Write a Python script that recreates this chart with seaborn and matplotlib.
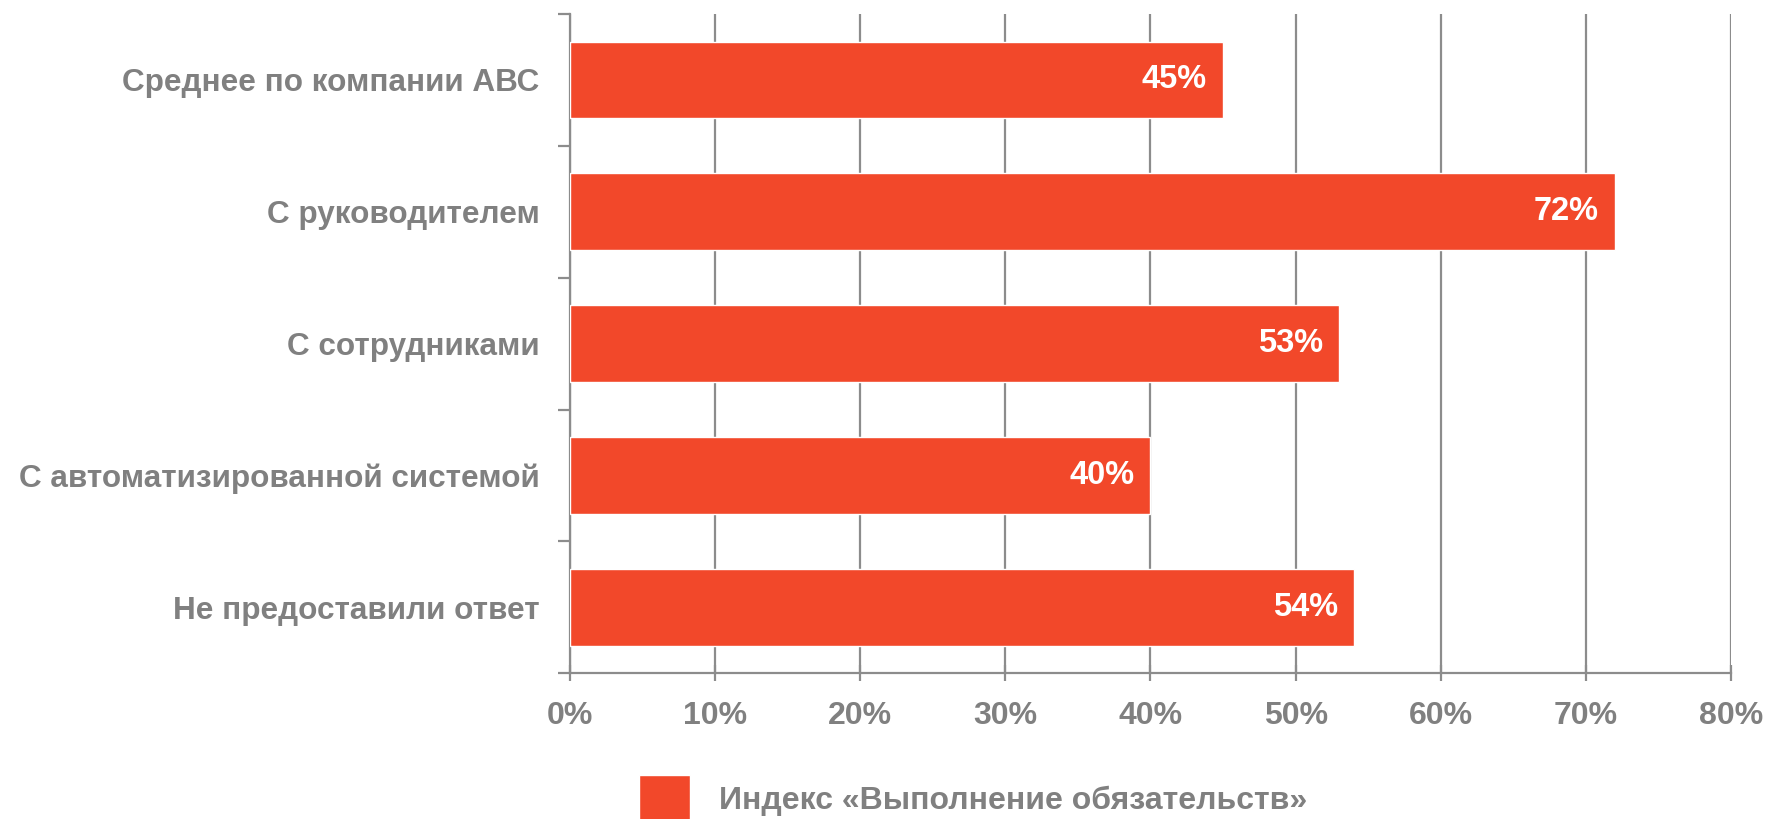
import matplotlib
matplotlib.use("Agg")
import matplotlib.pyplot as plt
import seaborn as sns
import pandas as pd

categories = [
    "Среднее по компании АВС",
    "С руководителем",
    "С сотрудниками",
    "С автоматизированной системой",
    "Не предоставили ответ",
]
values = [45, 72, 53, 40, 54]
x_ticks = [0, 10, 20, 30, 40, 50, 60, 70, 80]
series_name = "Индекс «Выполнение обязательств»"

BAR = "#F2482A"
GRAY = "#808080"
GRID = "#8C8C8C"

sns.set_theme(style="white")
plt.rcParams["font.family"] = ["Liberation Sans", "DejaVu Sans"]

df = pd.DataFrame({"category": categories, "value": values})

fig = plt.figure(figsize=(17.67, 8.19), dpi=100)
ax = fig.add_axes([0.3226, 0.178, 0.9796 - 0.3226, 0.983 - 0.178])

sns.barplot(data=df, y="category", x="value", orient="h", color=BAR,
            saturation=1, width=0.58, ax=ax, label=series_name, zorder=3)
if ax.get_legend() is not None:
    ax.get_legend().remove()

ax.set_xlim(0, 80)
ax.set_ylim(len(categories) - 0.5, -0.5)
ax.set_xticks(x_ticks)
ax.set_xticklabels([f"{t}%" for t in x_ticks], fontweight="bold",
                   fontsize=23, color=GRAY)
ax.xaxis.grid(True, color=GRID, linewidth=1.6, zorder=0)
ax.yaxis.grid(False)

# category labels at centers, tick marks at category boundaries
ax.set_yticks(range(len(categories)))
ax.set_yticklabels(categories, fontweight="bold", fontsize=22.7, color=GRAY)
ax.set_yticks([i - 0.5 for i in range(len(categories) + 1)], minor=True)
ax.tick_params(axis="y", which="major", length=0, pad=22)
ax.tick_params(axis="y", which="minor", length=9, width=1.6, color=GRID, direction="out", left=True)
ax.tick_params(axis="x", which="major", length=12, width=1.6, color=GRID, direction="inout", pad=14, bottom=True)
ax.set_xlabel("")
ax.set_ylabel("")

for side in ["top", "right"]:
    ax.spines[side].set_visible(False)
for side in ["left", "bottom"]:
    ax.spines[side].set_color(GRID)
    ax.spines[side].set_linewidth(1.6)

for bar, v in zip(ax.containers[0], values):
    ax.text(bar.get_width() - 1.1, bar.get_y() + bar.get_height() / 2, f"{v}%",
            ha="right", va="center", color="white", fontweight="bold",
            fontsize=23.5, zorder=4)

handles, labels = ax.get_legend_handles_labels()
fig.legend(handles, labels, loc="upper left", bbox_to_anchor=(639 / 1767, 1 - 775 / 819),
           frameon=False, handlelength=1.6, handleheight=1.9, handletextpad=0.9,
           borderpad=0, borderaxespad=0,
           prop={"weight": "bold", "size": 23},
           labelcolor=GRAY)

fig.savefig("out.png", dpi=100)
